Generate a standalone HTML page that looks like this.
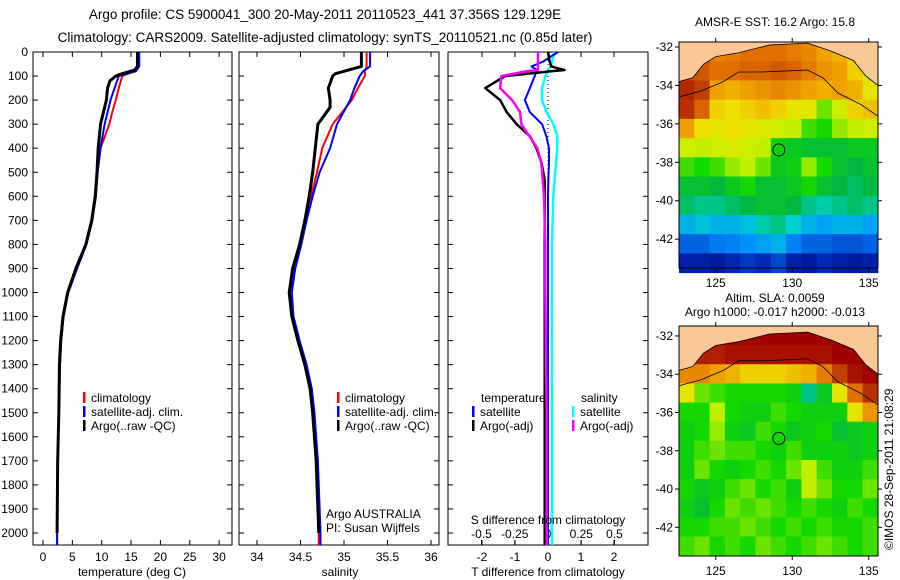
<!DOCTYPE html>
<html><head><meta charset="utf-8"><style>
body{margin:0;background:#fff;}
svg{display:block;font-family:"Liberation Sans",sans-serif;}
</style></head><body>
<svg id="fig" width="900" height="580" viewBox="0 0 900 580">
<text x="325" y="19" font-size="13.5" text-anchor="middle">Argo profile: CS 5900041_300 20-May-2011 20110523_441 37.356S 129.129E</text>
<text x="325" y="42" font-size="13.5" text-anchor="middle">Climatology: CARS2009. Satellite-adjusted climatology: synTS_20110521.nc (0.85d later)</text>
<g id="p1"></g>
<g id="p2"></g>
<g id="p3"></g>
<g id="m1"></g>
<g id="m2"></g>
<text x="775" y="26" font-size="12" text-anchor="middle">AMSR-E SST: 16.2  Argo: 15.8</text>
<text x="775" y="302" font-size="12" text-anchor="middle">Altim. SLA: 0.0059</text>
<text x="775" y="316" font-size="12" text-anchor="middle">Argo h1000: -0.017 h2000: -0.013</text>
<text x="0" y="0" font-size="12" transform="translate(893,550) rotate(-90)">©IMOS 28-Sep-2011 21:08:29</text>
</svg>
<script>
// ---- profile data ----
const tDepthArgo=[0,60,75,90,100,120,150,200,250,300,400,500,600,700,800,900,1000,1100,1200,1300,1500,1700,2000];
const tArgo=[16.1,16.1,15.6,13.5,12.4,11.4,11.0,10.8,10.3,9.8,9.4,9.2,8.9,8.3,7.3,5.6,4.2,3.4,3.0,2.8,2.7,2.5,2.4];
const tDepthClim=[0,60,80,100,150,200,250,300,400,500,600,700,800,900,1000,1100,1200,1300,1500,1700,2000,2050];
const tClim=[16.3,16.3,15.6,13.5,12.9,12.4,11.8,11.3,9.8,9.3,9.0,8.4,7.4,5.8,4.3,3.5,3.1,2.9,2.7,2.5,2.4,2.4];
const tSat=[16.4,16.4,15.8,12.9,12.2,11.5,11.0,10.5,9.8,9.3,9.0,8.4,7.4,5.8,4.3,3.5,3.1,2.9,2.7,2.5,2.4,2.4];
const sDepthArgo=[0,60,75,90,100,150,200,230,300,400,500,600,700,800,900,1000,1100,1200,1300,1400,1500,1700,2000];
const sArgo=[35.20,35.20,35.05,34.9,34.87,34.82,34.84,34.84,34.70,34.67,34.64,34.60,34.55,34.49,34.41,34.37,34.40,34.47,34.55,34.61,34.64,34.68,34.71];
const sDepthClim=[0,60,80,100,150,200,300,400,500,600,700,800,900,1000,1100,1200,1300,1400,1500,1700,2000,2050];
const sClim=[35.26,35.26,35.24,35.24,35.16,35.09,34.87,34.75,34.69,34.62,34.56,34.50,34.43,34.39,34.41,34.48,34.56,34.62,34.65,34.69,34.71,34.71];
const sSat=[35.30,35.30,35.22,35.18,35.12,35.07,34.92,34.84,34.72,34.64,34.57,34.51,34.44,34.40,34.42,34.49,34.57,34.63,34.66,34.70,34.73,34.73];
const dDepth=[0,40,60,75,80,100,150,200,250,300,350,400,460,530,600,800,1000,1500,2000,2050];
const dTArgo=[0,0.05,0.1,0.5,0.1,-1.3,-1.9,-1.45,-1.25,-0.95,-0.55,-0.35,-0.2,-0.1,-0.1,-0.1,-0.1,-0.1,-0.1,-0.1];
const dTSat=[0.3,-0.15,-0.5,-0.33,-0.35,-0.4,-0.55,-0.7,-0.55,-0.18,-0.05,0.03,0.03,0.01,0,0,0,0,0,0];
const dSArgo=[-0.075,-0.075,-0.075,-0.075,-0.16,-0.35,-0.36,-0.27,-0.21,-0.2,-0.14,-0.08,-0.05,-0.04,-0.03,-0.02,-0.02,-0.01,-0.01,-0.01];
const dSSat=[0.05,0.03,0.02,0.0,0.0,-0.02,-0.045,-0.045,-0.01,0.04,0.07,0.07,0.06,0.05,0.04,0.03,0.03,0.03,0.03,0.03];
const depthTicks=[0,100,200,300,400,500,600,700,800,900,1000,1100,1200,1300,1400,1500,1600,1700,1800,1900,2000];
const tTicks=[0,5,10,15,20,25,30];
const sTicks=[34,34.5,35,35.5,36];
const dTTicks=[-2,-1,0,1,2];
const dSTicks=[-0.5,-0.25,0,0.25,0.5];
const dSTickLabels=["-0.5","-0.25","0","0.25","0.5"];
// ---- map data (lon 122.6.., 1deg cols; lat rows from top), normalized colour values ----
const sstGrid=[
[.80,.80,.80,.82,.84,.84,.84,.82,.80,.76,.74,.70,.66],
[.90,.88,.84,.84,.86,.86,.88,.86,.82,.78,.76,.70,.62],
[.95,.92,.76,.74,.76,.78,.80,.78,.76,.74,.76,.74,.66],
[.94,.86,.70,.68,.70,.72,.70,.66,.66,.56,.62,.70,.72],
[.76,.68,.66,.68,.66,.64,.62,.60,.54,.52,.58,.60,.62],
[.62,.60,.62,.64,.62,.60,.50,.48,.46,.46,.46,.48,.48],
[.54,.52,.54,.58,.60,.56,.48,.50,.58,.52,.46,.44,.46],
[.46,.46,.44,.48,.52,.46,.46,.48,.52,.46,.44,.42,.44],
[.42,.40,.40,.42,.44,.46,.46,.44,.40,.38,.40,.42,.40],
[.32,.34,.32,.32,.34,.38,.40,.36,.32,.30,.32,.32,.30],
[.22,.22,.25,.26,.28,.30,.32,.26,.22,.22,.20,.20,.22],
[.10,.10,.08,.12,.16,.13,.18,.10,.08,.13,.10,.08,.10]];
const slaGrid=[
[1.0,1.0,1.0,1.0,1.0,1.0,1.0,1.0,1.0,1.0,1.0,1.0,1.0],
[.96,.96,.96,.98,.98,.98,.98,.98,.98,.98,1.0,1.0,1.0],
[.80,.80,.76,.74,.70,.70,.70,.72,.74,.82,.92,.98,1.0],
[.66,.56,.54,.52,.52,.52,.52,.50,.40,.48,.66,.84,.94],
[.52,.52,.60,.52,.50,.50,.54,.52,.50,.50,.50,.66,.78],
[.50,.52,.58,.50,.48,.54,.52,.48,.50,.52,.46,.48,.50],
[.50,.54,.56,.54,.54,.52,.50,.54,.50,.50,.50,.48,.50],
[.50,.56,.52,.50,.52,.54,.52,.56,.60,.54,.50,.50,.54],
[.52,.48,.50,.54,.56,.52,.54,.50,.60,.56,.52,.52,.56],
[.50,.46,.52,.56,.54,.56,.54,.52,.54,.52,.50,.54,.52],
[.52,.52,.54,.54,.56,.54,.52,.54,.52,.54,.52,.52,.54],
[.54,.56,.52,.54,.52,.56,.54,.52,.54,.56,.54,.52,.54]];
const landLon=[122.6,123.5,124.2,125,126.5,128.5,131,132.5,134,134.8,135.6,135.6,122.6];
const landLat=[-33.8,-33.6,-32.9,-32.5,-32.3,-31.9,-31.8,-32.2,-32.7,-33.5,-34.0,-31.3,-31.3];
const isoLon=[122.6,124,125.5,126.5,128,131,132,133,134.5,135.6];
const isoLat=[-34.6,-34.3,-33.8,-33.3,-33.3,-33.2,-33.6,-34.4,-35.0,-35.6];
const lonTicks=[125,130,135];
const latTicks=[-32,-34,-36,-38,-40,-42];
const argoLon=129.129, argoLat=-37.356;

const NS="http://www.w3.org/2000/svg";
function mk(parent,tag,attrs){const e=document.createElementNS(NS,tag);for(const k in attrs)e.setAttribute(k,attrs[k]);parent.appendChild(e);return e;}
const Y0=52,Y1=545; const yD=d=>Y0+d*0.2405;
function frame(g,x0,x1,name){
  const r=mk(g,'rect',{x:x0,y:Y0,width:x1-x0,height:Y1-Y0,fill:'none',stroke:'#000','stroke-width':1});
  
  
  depthTicks.forEach(d=>{mk(g,'line',{x1:x0,x2:x0+5,y1:yD(d),y2:yD(d),stroke:'#000'});mk(g,'line',{x1:x1,x2:x1-5,y1:yD(d),y2:yD(d),stroke:'#000'});});
}
function xTicks(g,ticks,labels,fx,ly,top){
  ticks.forEach((t,i)=>{const x=fx(t);
    mk(g,'line',{x1:x,x2:x,y1:Y1,y2:Y1-5,stroke:'#000'});
    if(top)mk(g,'line',{x1:x,x2:x,y1:Y0,y2:Y0+5,stroke:'#000'});
    const tx=mk(g,'text',{x:x,y:ly,'font-size':12,'text-anchor':'middle'});tx.textContent=labels[i];
    
    });
}
function line(g,xs,ds,fx,col,w,name){
  const p=mk(g,'polyline',{points:xs.map((v,i)=>fx(v)+','+yD(ds[i])).join(' '),fill:'none',stroke:col,'stroke-width':w,'stroke-linejoin':'round'});
  
  
}
function txt(g,x,y,s,name,anchor){const t=mk(g,'text',{x:x,y:y,'font-size':12,'text-anchor':anchor||'start'});t.textContent=s;
  
  return t;}
function legend(g,x,y,items){items.forEach((it,i)=>{mk(g,'rect',{x:x,y:y+i*14-10,width:2.5,height:11,fill:it[1]});txt(g,x+8,y+i*14,it[0],'legend-entry');});}

// Panel 1 temperature
const g1=document.getElementById('p1');const fT=t=>43+5.87*t;
frame(g1,33,232,'temperature-panel');
depthTicks.forEach(d=>txt(g1,28,yD(d)+4,String(d),'depth-tick-label','end'));
xTicks(g1,tTicks,tTicks.map(String),fT,561,true);
line(g1,tClim,tDepthClim,fT,'#f00',2,'temp-climatology-line');
line(g1,tSat,tDepthClim,fT,'#00f',2,'temp-satellite-line');
line(g1,tArgo,tDepthArgo,fT,'#000',3,'temp-argo-line');
txt(g1,132,576,'temperature (deg C)','x-axis-title','middle');
legend(g1,83,402,[['climatology','#f00'],['satellite-adj. clim.','#00f'],['Argo(..raw -QC)','#000']]);

// Panel 2 salinity
const g2=document.getElementById('p2');const fS=s=>257+87*(s-34);
frame(g2,239,439,'salinity-panel');
xTicks(g2,sTicks,sTicks.map(String),fS,561,true);
line(g2,sClim,sDepthClim,fS,'#f00',2,'sal-climatology-line');
line(g2,sSat,sDepthClim,fS,'#00f',2,'sal-satellite-line');
line(g2,sArgo,sDepthArgo,fS,'#000',3,'sal-argo-line');
txt(g2,340,576,'salinity','x-axis-title','middle');
legend(g2,337,402,[['climatology','#f00'],['satellite-adj. clim.','#00f'],['Argo(..raw -QC)','#000']]);
txt(g2,326,518,'Argo AUSTRALIA','credit-line');
txt(g2,326,532,'PI: Susan Wijffels','pi-line');

// Panel 3 differences
const g3=document.getElementById('p3');const fdT=v=>548+33*v, fdS=v=>548+133*v;
frame(g3,448,648,'difference-panel');
xTicks(g3,dTTicks,dTTicks.map(String),fdT,561,true);
xTicks(g3,dSTicks,dSTickLabels,fdS,538,false);
mk(g3,'line',{x1:548,x2:548,y1:Y0,y2:Y1,stroke:'#000','stroke-dasharray':'1,3'});
line(g3,dSSat,dDepth,fdS,'#0ff',2.5,'sal-satellite-diff-line');
line(g3,dTSat,dDepth,fdT,'#00f',2,'temp-satellite-diff-line');
line(g3,dTArgo,dDepth,fdT,'#000',2.5,'temp-argo-diff-line');
line(g3,dSArgo,dDepth,fdS,'#f0f',2.5,'sal-argo-diff-line');
txt(g3,548,576,'T difference from climatology','x-axis-title','middle');
txt(g3,548,524,'S difference from climatology','s-axis-title','middle');
txt(g3,481,402,'temperature','legend-heading');
txt(g3,581,402,'salinity','legend-heading');
legend(g3,472,416,[['satellite','#00f'],['Argo(-adj)','#000']]);
legend(g3,572,416,[['satellite','#0ff'],['Argo(-adj)','#f0f']]);

// maps
const cmapStops=[[0,[0,0,122]],[.15,[0,48,192]],[.28,[0,144,255]],[.36,[0,208,208]],[.44,[0,184,64]],[.52,[20,216,0]],[.6,[192,240,0]],[.68,[240,224,0]],[.76,[240,160,0]],[.84,[224,112,0]],[.92,[192,64,0]],[1,[160,0,0]]];
function cmap(v){v=Math.max(0,Math.min(1,v));for(let i=1;i<cmapStops.length;i++){const a=cmapStops[i-1],b=cmapStops[i];if(v<=b[0]){const f=(v-a[0])/(b[0]-a[0]);return 'rgb('+a[1].map((c,k)=>Math.round(c+f*(b[1][k]-c))).join(',')+')';}}return 'rgb(160,0,0)';}
function map(id,grid,top,bot,latTop){
  const g=document.getElementById(id);const X0=679,X1=878;
  const fx=lon=>X0+(lon-122.6)*15.3, fy=lat=>top+(latTop-lat)*(bot-top)/(latTop+43.5);
  grid.forEach((row,j)=>row.forEach((v,i)=>{
    const r=mk(g,'rect',{x:fx(122.6+i),y:fy(latTop-j),width:15.8,height:fy(latTop-j-1)-fy(latTop-j)+0.5,fill:cmap(v)});
    
    }));
  const land=mk(g,'polygon',{points:landLon.map((l,i)=>fx(l)+','+fy(landLat[i])).join(' '),fill:'#fac896',stroke:'#000','stroke-width':0.8});
  
  
  mk(g,'polyline',{points:isoLon.map((l,i)=>fx(l)+','+fy(isoLat[i])).join(' '),fill:'none',stroke:'#000','stroke-width':0.8});
  mk(g,'rect',{x:X1,y:top-2,width:22,height:bot-top+4,fill:'#fff'});
  mk(g,'rect',{x:X0-2,y:top-12,width:X1-X0+4,height:12,fill:'#fff'});
  mk(g,'rect',{x:X0,y:top,width:X1-X0,height:bot-top,fill:'none',stroke:'#000'});
  const c=mk(g,'circle',{cx:fx(argoLon),cy:fy(argoLat),r:6,fill:'none',stroke:'#000'});
  
  
  lonTicks.forEach(l=>{const x=fx(l);mk(g,'line',{x1:x,x2:x,y1:top,y2:top-4,stroke:'#000'});mk(g,'line',{x1:x,x2:x,y1:bot,y2:bot+4,stroke:'#000'});txt(g,x,bot+19,String(l),'lon-tick-label','middle');});
  latTicks.forEach(l=>{const y=fy(l);mk(g,'line',{x1:X0,x2:X0-4,y1:y,y2:y,stroke:'#000'});mk(g,'line',{x1:X1,x2:X1+4,y1:y,y2:y,stroke:'#000'});txt(g,X0-6,y+4,String(l),'lat-tick-label','end');});
}
map('m1',sstGrid,42,268,-31.74);
map('m2',slaGrid,326,556,-31.48);
</script>
</body></html>
